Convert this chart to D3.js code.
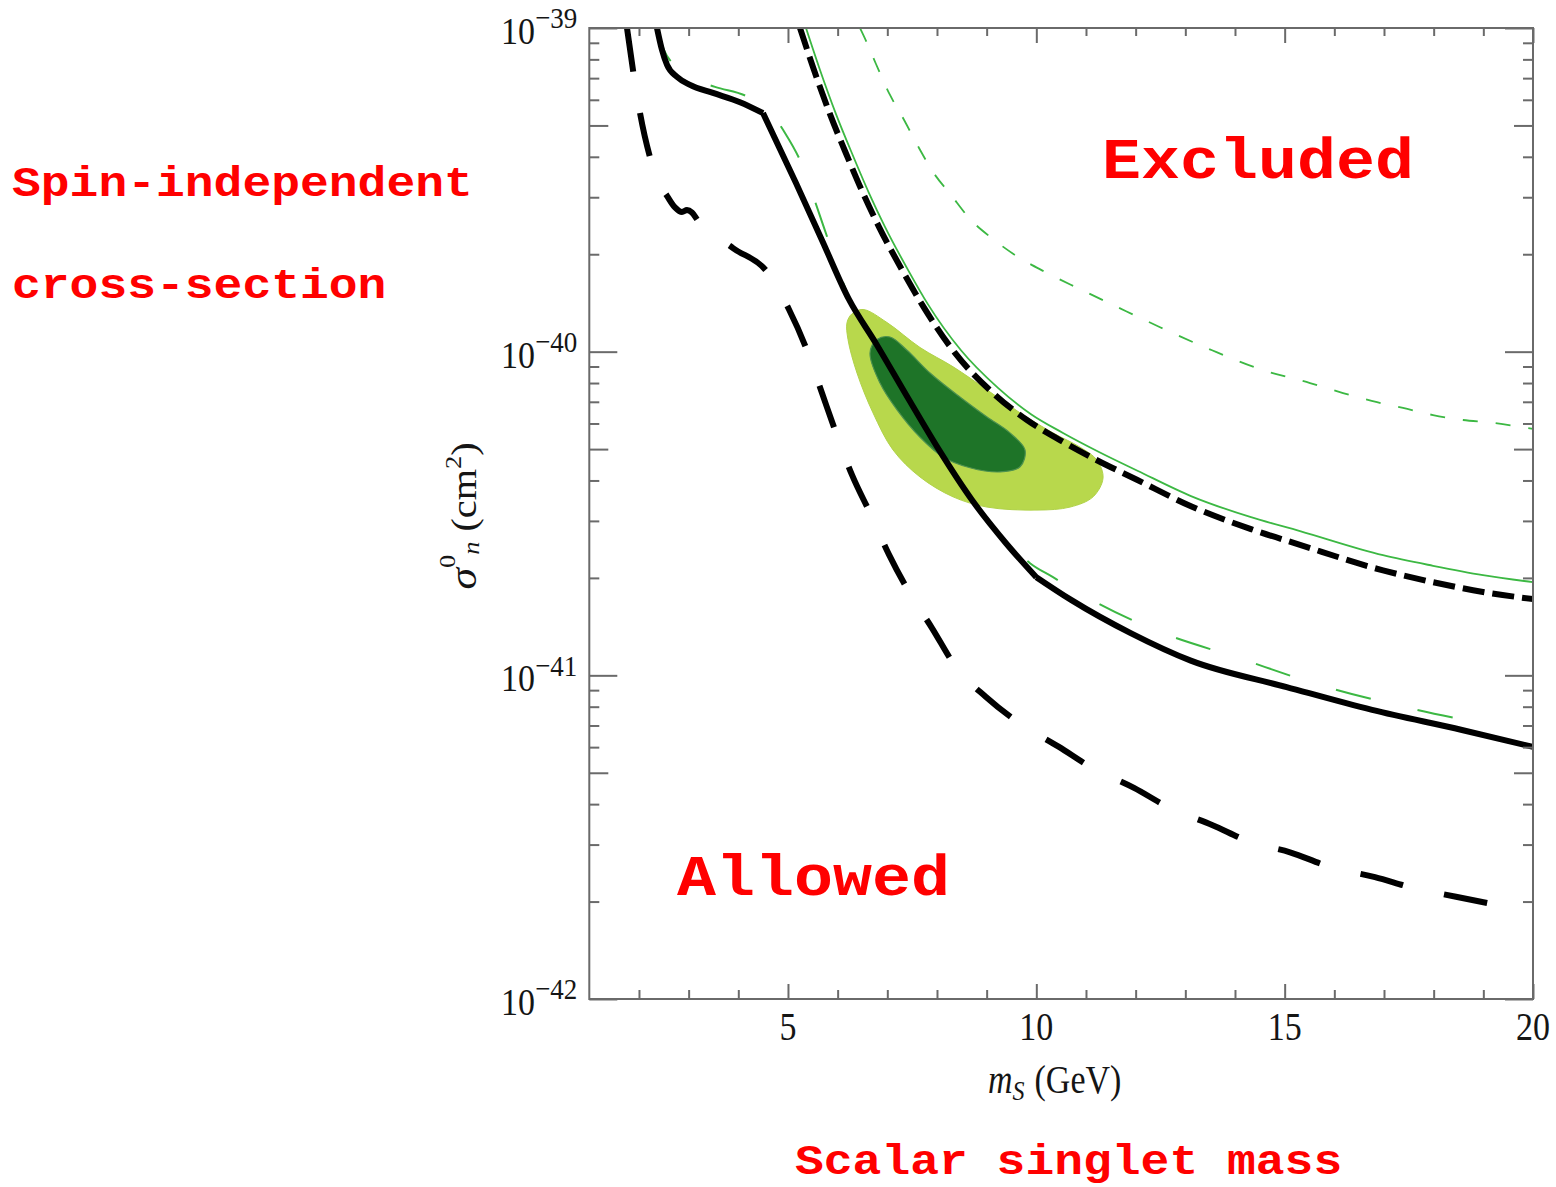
<!DOCTYPE html>
<html>
<head>
<meta charset="utf-8">
<script src="https://cdn.jsdelivr.net/npm/d3@7"></script>
<style>
  body { margin: 0; background: #fff; }
  svg { display: block; }
</style>
</head>
<body>
<svg id="chart" width="1556" height="1187"></svg>
<script>
// Scalar singlet dark matter: spin-independent nucleon cross-section (cm^2) vs mass m_S (GeV)

// Thick solid black limit (sharp corners at the masses listed in solidLimitCorners)
const solidLimitMass  = [2.363, 2.464, 2.565, 2.766, 3.028, 3.490, 4.034, 4.497, 5.161, 5.685, 6.228, 6.772, 7.437, 8.041, 8.705, 9.390, 10.0, 10.70, 11.90, 13.11, 15.04, 16.76, 18.57, 20.0];
const solidLimitSigma = [1.00e-39, 8.55e-40, 7.69e-40, 7.06e-40, 6.67e-40, 6.30e-40, 5.90e-40, 5.46e-40, 3.32e-40, 2.21e-40, 1.45e-40, 1.06e-40, 7.10e-41, 4.97e-41, 3.48e-41, 2.56e-41, 2.01e-41, 1.71e-41, 1.35e-41, 1.11e-41, 9.20e-42, 7.82e-42, 6.78e-42, 6.01e-42];
const solidLimitCorners = [4.497, 10.0];

// Green long-dashed limit
const greenLongMass  = [2.363, 2.504, 2.665, 3.028, 3.531, 4.236, 4.638, 4.940, 5.283, 5.625, 5.866, 6.229, 6.772, 7.437, 8.041, 8.705, 9.390, 9.873, 10.336, 10.940, 12.390, 14.081, 15.712, 17.423, 19.134];
const greenLongSigma = [1.00e-39, 8.55e-40, 7.80e-40, 7.02e-40, 6.58e-40, 6.08e-40, 5.50e-40, 4.74e-40, 3.78e-40, 2.68e-40, 2.09e-40, 1.47e-40, 1.08e-40, 7.19e-41, 5.04e-41, 3.53e-41, 2.62e-41, 2.22e-41, 2.01e-41, 1.77e-41, 1.38e-41, 1.13e-41, 9.33e-42, 7.98e-42, 7.03e-42];

// Thick short-dashed black limit
const shortDashMass  = [5.242, 5.503, 5.846, 6.188, 6.510, 6.832, 7.295, 7.698, 8.362, 9.128, 9.812, 10.476, 11.221, 12.026, 13.114, 14.322, 15.309, 16.980, 17.987, 18.993, 20.0];
const shortDashSigma = [1.00e-39, 7.58e-40, 5.42e-40, 4.03e-40, 3.09e-40, 2.43e-40, 1.79e-40, 1.40e-40, 9.91e-41, 7.45e-41, 6.15e-41, 5.33e-41, 4.62e-41, 4.02e-41, 3.33e-41, 2.83e-41, 2.53e-41, 2.11e-41, 1.94e-41, 1.81e-41, 1.72e-41];

// Thin solid green limit
const greenSolidMass  = [5.363, 5.624, 5.967, 6.309, 6.631, 6.953, 7.416, 7.819, 8.483, 9.228, 9.893, 10.537, 11.262, 12.047, 13.114, 14.322, 15.309, 16.980, 17.987, 18.993, 20.0];
const greenSolidSigma = [1.00e-39, 7.58e-40, 5.42e-40, 4.03e-40, 3.09e-40, 2.43e-40, 1.79e-40, 1.40e-40, 1.01e-40, 7.73e-41, 6.41e-41, 5.61e-41, 4.90e-41, 4.28e-41, 3.58e-41, 3.08e-41, 2.79e-41, 2.35e-41, 2.18e-41, 2.04e-41, 1.94e-41];

// Thin dashed green limit
const greenDashMass  = [6.450, 6.591, 6.772, 7.054, 7.316, 7.638, 7.920, 8.282, 8.665, 9.108, 9.591, 10.155, 10.880, 11.605, 12.491, 13.538, 14.504, 15.511, 16.175, 16.860, 17.383, 17.987, 18.591, 19.175, 20.0];
const greenDashSigma = [1.00e-39, 8.99e-40, 7.74e-40, 6.21e-40, 5.27e-40, 4.26e-40, 3.59e-40, 3.05e-40, 2.57e-40, 2.24e-40, 1.98e-40, 1.77e-40, 1.56e-40, 1.38e-40, 1.19e-40, 1.01e-40, 8.83e-41, 8.00e-41, 7.45e-41, 6.98e-41, 6.70e-41, 6.37e-41, 6.15e-41, 6.03e-41, 5.77e-41];

// Thick long-dashed black projection
const longDashMass  = [1.759, 1.880, 2.021, 2.222, 2.423, 2.564, 2.725, 2.866, 2.967, 3.067, 3.188, 3.893, 4.598, 5.021, 5.383, 5.685, 5.967, 6.289, 6.671, 7.034, 7.437, 7.900, 8.383, 8.987, 9.651, 10.457, 11.121, 11.967, 12.692, 13.538, 14.322, 15.108, 15.913, 16.819, 17.604, 18.450, 19.296];
const longDashSigma = [1.00e-39, 7.41e-40, 5.46e-40, 3.99e-40, 3.27e-40, 3.03e-40, 2.79e-40, 2.70e-40, 2.74e-40, 2.69e-40, 2.54e-40, 2.09e-40, 1.75e-40, 1.35e-40, 1.01e-40, 7.45e-41, 5.61e-41, 4.16e-41, 3.13e-41, 2.36e-41, 1.81e-41, 1.40e-41, 1.06e-41, 8.57e-42, 7.13e-42, 6.01e-42, 5.18e-42, 4.49e-42, 3.89e-42, 3.45e-42, 3.05e-42, 2.84e-42, 2.56e-42, 2.38e-42, 2.20e-42, 2.07e-42, 1.95e-42];

// Signal region contours (outer: 90%, inner: 68%)
const outerRegionMass  = [6.189, 6.290, 6.512, 6.995, 7.659, 8.324, 9.008, 9.673, 10.337, 10.880, 11.223, 11.343, 11.142, 10.679, 10.014, 9.008, 8.324, 7.659, 7.115, 6.712, 6.390, 6.209];
const outerRegionSigma = [1.23e-40, 1.31e-40, 1.35e-40, 1.23e-40, 1.03e-40, 8.98e-41, 7.62e-41, 6.47e-41, 5.61e-41, 5.07e-41, 4.62e-41, 4.07e-41, 3.56e-41, 3.31e-41, 3.24e-41, 3.31e-41, 3.56e-41, 4.10e-41, 4.97e-41, 6.47e-41, 8.59e-41, 1.09e-40];
const innerRegionMass  = [6.652, 6.793, 7.054, 7.397, 7.860, 8.463, 9.008, 9.470, 9.772, 9.673, 9.270, 8.665, 8.121, 7.659, 7.196, 6.853];
const innerRegionSigma = [9.91e-41, 1.09e-40, 1.11e-40, 1.01e-40, 8.59e-41, 7.24e-41, 6.28e-41, 5.61e-41, 4.97e-41, 4.41e-41, 4.25e-41, 4.38e-41, 4.73e-41, 5.44e-41, 6.61e-41, 8.00e-41];

// Axis ticks and labels
const xMajorTicks = [5, 10, 15, 20];
const xMinorTicks = [2, 3, 4, 6, 7, 8, 9, 11, 12, 13, 14, 16, 17, 18, 19];
const yDecadeTicks = [1e-42, 1e-41, 1e-40, 1e-39];
const yDecadeExponents = ["\u221242", "\u221241", "\u221240", "\u221239"];
const yHalfTicks = [5e-42, 5e-41, 5e-40];
const yMinorTicks = [2e-42, 3e-42, 4e-42, 6e-42, 7e-42, 8e-42, 9e-42,
                     2e-41, 3e-41, 4e-41, 6e-41, 7e-41, 8e-41, 9e-41,
                     2e-40, 3e-40, 4e-40, 6e-40, 7e-40, 8e-40, 9e-40];

// Annotations
const annotations = [
  { text: "Spin-independent", x: 12, y: 196, size: 48 },
  { text: "cross-section", x: 12, y: 298, size: 48 },
  { text: "Excluded", x: 1102, y: 178, size: 65 },
  { text: "Allowed", x: 677, y: 895, size: 65 },
  { text: "Scalar singlet mass", x: 795, y: 1174, size: 48 }
];

const zip = (ms, ss) => ms.map((m, i) => [m, ss[i]]);

const svg = d3.select("#chart");
svg.append("rect").attr("width", 1556).attr("height", 1187).attr("fill", "#fff");

const plotLeft = 589.3, plotRight = 1533, plotTop = 28, plotBottom = 999;
const x = d3.scaleLinear().domain([1, 20]).range([plotLeft, plotRight]);
const y = d3.scaleLog().domain([1e-42, 1e-39]).range([plotBottom, plotTop]);

svg.append("defs").append("clipPath").attr("id", "plotClip")
  .append("rect").attr("x", plotLeft).attr("y", plotTop)
  .attr("width", plotRight - plotLeft).attr("height", plotBottom - plotTop);

const plot = svg.append("g").attr("clip-path", "url(#plotClip)");

// Contour regions
const area = d3.line().x(d => x(d[0])).y(d => y(d[1])).curve(d3.curveCatmullRomClosed.alpha(0.5));
plot.append("path").attr("d", area(zip(outerRegionMass, outerRegionSigma)))
  .attr("fill", "#b8d84c").attr("stroke", "#b0d248").attr("stroke-width", 1);
plot.append("path").attr("d", area(zip(innerRegionMass, innerRegionSigma)))
  .attr("fill", "#1e7428").attr("stroke", "#4d9150").attr("stroke-width", 1.2);

const line = d3.line().x(d => x(d[0])).y(d => y(d[1])).curve(d3.curveMonotoneX);

// Smooth pieces joined at sharp corners
function cornered(points, corners) {
  const pieces = [];
  let cur = [];
  points.forEach(p => {
    cur.push(p);
    if (corners.includes(p[0])) { pieces.push(cur); cur = [p]; }
  });
  pieces.push(cur);
  return pieces.map(pc => line(pc)).join("");
}

const green = "#3cb843";
const curves = [
  { d: line(zip(greenLongMass, greenLongSigma)),   color: green, width: 2,   dash: "36,48" },
  { d: line(zip(greenSolidMass, greenSolidSigma)), color: green, width: 1.8, dash: null },
  { d: line(zip(greenDashMass, greenDashSigma)),   color: green, width: 1.8, dash: "15,18" },
  { d: line(zip(longDashMass, longDashSigma)),     color: "#000", width: 6, dash: "44,42" },
  { d: line(zip(shortDashMass, shortDashSigma)),   color: "#000", width: 6, dash: "22,8" },
  { d: cornered(zip(solidLimitMass, solidLimitSigma), solidLimitCorners), color: "#000", width: 6, dash: null }
];
curves.forEach(c => {
  plot.append("path")
    .attr("d", c.d)
    .attr("fill", "none")
    .attr("stroke", c.color)
    .attr("stroke-width", c.width)
    .attr("stroke-dasharray", c.dash)
    .attr("stroke-linejoin", "miter");
});

// Frame and inward ticks on all four sides
const axisColor = "#6a6a6a";
function ticks(gen, tx, ty) {
  const g = svg.append("g").attr("transform", `translate(${tx},${ty})`).call(gen);
  g.select(".domain").remove();
  g.selectAll(".tick line").attr("stroke", axisColor).attr("stroke-width", 2);
  g.selectAll(".tick text").remove();
}
ticks(d3.axisBottom(x).tickValues(xMajorTicks).tickSize(-15).tickFormat(""), 0, plotBottom);
ticks(d3.axisBottom(x).tickValues(xMinorTicks).tickSize(-9).tickFormat(""), 0, plotBottom);
ticks(d3.axisTop(x).tickValues(xMajorTicks).tickSize(-15).tickFormat(""), 0, plotTop);
ticks(d3.axisTop(x).tickValues(xMinorTicks).tickSize(-8).tickFormat(""), 0, plotTop);
[[d3.axisLeft, plotLeft], [d3.axisRight, plotRight]].forEach(([fn, px]) => {
  ticks(fn(y).tickValues(yDecadeTicks).tickSize(-28).tickFormat(""), px, 0);
  ticks(fn(y).tickValues(yHalfTicks).tickSize(-19).tickFormat(""), px, 0);
  ticks(fn(y).tickValues(yMinorTicks).tickSize(-10).tickFormat(""), px, 0);
});
svg.append("rect").attr("x", plotLeft).attr("y", plotTop)
  .attr("width", plotRight - plotLeft).attr("height", plotBottom - plotTop)
  .attr("fill", "none").attr("stroke", axisColor).attr("stroke-width", 2);

// Tick labels
const serif = "'Liberation Serif', 'Times New Roman', serif";
const labelColor = "#151515";
xMajorTicks.forEach(v => {
  svg.append("text")
    .attr("transform", `translate(${x(v)},${plotBottom + 41}) scale(1,1.15)`)
    .attr("text-anchor", "middle").attr("font-family", serif)
    .attr("font-size", 34).attr("fill", labelColor).text(v);
});
yDecadeTicks.forEach((v, i) => {
  const t = svg.append("text")
    .attr("transform", `translate(${plotLeft - 12},${y(v) + 16}) scale(1,1.12)`)
    .attr("text-anchor", "end").attr("font-family", serif)
    .attr("font-size", 34).attr("fill", labelColor);
  t.append("tspan").text("10");
  t.append("tspan").attr("dy", -14).attr("font-size", 27).text(yDecadeExponents[i]);
});

// Axis titles
const xt = svg.append("text")
  .attr("transform", `translate(988,1093) scale(1,1.15)`)
  .attr("font-family", serif).attr("font-size", 34).attr("fill", labelColor);
xt.append("tspan").attr("font-style", "italic").text("m");
xt.append("tspan").attr("font-style", "italic").attr("font-size", 24).attr("dy", 6).text("S");
xt.append("tspan").attr("dy", -6).attr("dx", 10).text("(GeV)");

const yt = svg.append("text")
  .attr("transform", `translate(476,516) rotate(-90) scale(1.15,1)`)
  .attr("text-anchor", "middle")
  .attr("font-family", serif).attr("font-size", 35).attr("fill", labelColor);
yt.append("tspan").attr("font-style", "italic").attr("font-size", 38).text("\u03C3");
yt.append("tspan").attr("font-size", 23).attr("dy", -21).text("0");
yt.append("tspan").attr("font-style", "italic").attr("font-size", 23).attr("dy", 24).text("n");
yt.append("tspan").attr("dy", -3).text(" (cm");
yt.append("tspan").attr("font-size", 23).attr("dy", -15).text("2");
yt.append("tspan").attr("dy", 15).text(")");

// Red annotations
annotations.forEach(a => {
  svg.append("text")
    .attr("transform", `translate(${a.x},${a.y}) scale(1,0.88)`)
    .attr("font-family", "'Liberation Mono', 'Courier New', monospace")
    .attr("font-weight", "bold")
    .attr("font-size", a.size)
    .attr("fill", "#ff0000")
    .text(a.text);
});
</script>
</body>
</html>
